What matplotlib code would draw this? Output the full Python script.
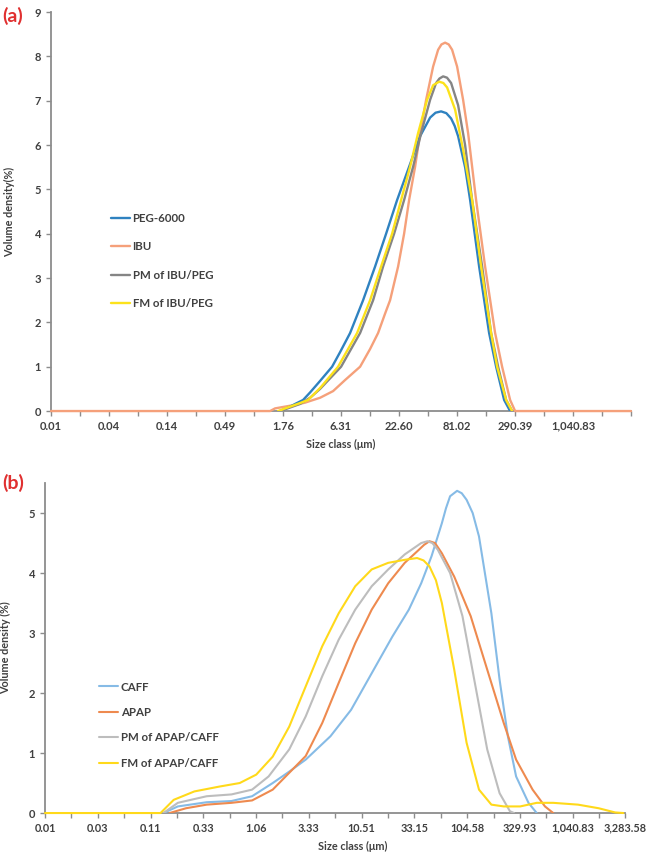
import numpy as np
import matplotlib
matplotlib.use("Agg")
import matplotlib.pyplot as plt
from matplotlib.ticker import FixedLocator, FixedFormatter, NullFormatter

plt.rcParams["font.family"] = ["Lato", "DejaVu Sans"]

# ---- panel (a): IBU / PEG-6000 ----
a_ticks = [0.01066, 0.03821, 0.1370, 0.4909, 1.759, 6.306, 22.60, 81.02,
           290.39, 1040.83, 3730.6]
a_tick_labels = ["0.01", "0.04", "0.14", "0.49", "1.76", "6.31", "22.60",
                 "81.02", "290.39", "1,040.83", ""]

peg_x = [1.649, 1.841, 2.055, 2.295, 2.736, 3.193, 3.979, 5.18, 6.18, 7.70,
         10.25, 13.35, 17.01, 21.67, 28.22, 35.95, 44.80, 50.5, 57.08, 64.0,
         71.13, 77.0, 82.99, 96.80, 108.1, 131.8, 164.2, 191.6, 228.5, 260.7]
peg_y = [0, 0.05, 0.10, 0.16, 0.25, 0.42, 0.68, 1.0, 1.33, 1.76,
         2.5, 3.26, 4.0, 4.76, 5.51, 6.2, 6.62, 6.73, 6.76, 6.72,
         6.6, 6.43, 6.2, 5.5, 4.76, 3.26, 1.76, 1.0, 0.25, 0]

ibu_x = [0.01066, 1.323, 1.477, 1.841, 2.295, 2.860, 3.979, 5.297, 6.899, 9.598,
         11.96, 14.26, 16.64, 18.57, 22.15, 25.28, 28.22, 32.20, 35.95, 41.03,
         47.86, 53.44, 57.5, 62.33, 67.5, 72.72, 81.18, 92.64, 103.4, 112.96,
         123.3, 150.3, 187.4, 218.6, 260.7, 291.0, 3730.6]
ibu_y = [0, 0, 0.06, 0.10, 0.14, 0.19, 0.30, 0.45, 0.70, 1.0,
         1.4, 1.76, 2.2, 2.5, 3.26, 4.0, 4.76, 5.51, 6.27, 7.02,
         7.77, 8.15, 8.27, 8.31, 8.27, 8.15, 7.77, 7.02, 6.27, 5.51,
         4.76, 3.26, 1.76, 1.0, 0.25, 0, 0]

pm_a_x = [1.649, 2.055, 2.562, 3.193, 3.979, 6.317, 9.598, 12.78, 15.92, 20.29,
          25.28, 30.82, 36.75, 44.80, 51.13, 55.0, 59.65, 65.0, 71.13, 82.99,
          96.80, 112.96, 140.8, 171.6, 200.1, 238.8, 272.4]
pm_a_y = [0, 0.08, 0.16, 0.30, 0.50, 1.0, 1.76, 2.5, 3.26, 4.0,
          4.76, 5.51, 6.27, 7.02, 7.4, 7.5, 7.55, 7.52, 7.4, 6.9,
          6.0, 4.76, 3.26, 1.76, 1.0, 0.25, 0]

fm_a_x = [1.578, 1.841, 2.055, 2.562, 3.055, 3.979, 5.912, 8.984, 11.96, 15.24,
          19.41, 23.67, 28.85, 34.40, 41.94, 47.86, 54.63, 60.0, 65.15, 77.67,
          92.64, 112.96, 137.7, 171.6, 195.8, 238.8, 272.4]
fm_a_y = [0, 0.06, 0.10, 0.18, 0.25, 0.52, 1.0, 1.76, 2.5, 3.26,
          4.0, 4.76, 5.51, 6.27, 7.02, 7.35, 7.43, 7.4, 7.3, 6.8,
          5.9, 4.76, 3.26, 1.76, 1.0, 0.25, 0]

# ---- panel (b): APAP / CAFF ----
b_ticks = [0.01066, 0.03363, 0.1061, 0.3347, 1.056, 3.331, 10.51, 33.15,
           104.58, 329.93, 1040.83, 3283.58]
b_tick_labels = ["0.01", "0.03", "0.11", "0.33", "1.06", "3.33", "10.51",
                 "33.15", "104.58", "329.93", "1,040.83", "3,283.58"]

caff_x = [0.1404, 0.1923, 0.3606, 0.6182, 0.9687, 1.518, 2.174, 3.112, 5.337, 8.36,
          13.10, 20.53, 29.41, 38.49, 48.19, 60.33, 66.0, 72.19, 84.08, 93.0,
          103.4, 118.0, 135.4, 177.3, 212.1, 253.9, 303.8, 397.8, 476.0]
caff_y = [0, 0.11, 0.18, 0.20, 0.28, 0.50, 0.69, 0.89, 1.28, 1.72,
          2.33, 2.94, 3.39, 3.83, 4.28, 4.83, 5.08, 5.28, 5.37, 5.33,
          5.22, 5.0, 4.61, 3.33, 2.22, 1.28, 0.61, 0.17, 0]

apap_x = [0.1607, 0.2301, 0.3606, 0.6182, 0.9687, 1.518, 2.174, 3.112, 4.461, 6.388,
          9.15, 13.10, 18.77, 26.88, 35.19, 41.0, 46.08, 52.0, 60.33, 78.97,
          113.1, 162.0, 232.1, 303.8, 435.1, 569.7, 681.8]
apap_y = [0, 0.08, 0.14, 0.17, 0.21, 0.39, 0.67, 0.95, 1.5, 2.17,
          2.83, 3.39, 3.83, 4.17, 4.36, 4.47, 4.53, 4.5, 4.33, 3.94,
          3.28, 2.39, 1.5, 0.89, 0.39, 0.11, 0]

pm_b_x = [0.1404, 0.1923, 0.3606, 0.6182, 0.9687, 1.388, 2.174, 3.112, 4.461, 6.388,
          9.15, 13.10, 18.77, 26.88, 38.49, 44.06, 49.0, 55.14, 72.19, 94.52,
          123.7, 162.0, 212.1, 265.6, 290.5]
pm_b_y = [0, 0.17, 0.28, 0.31, 0.39, 0.61, 1.06, 1.61, 2.28, 2.89,
          3.39, 3.78, 4.06, 4.31, 4.5, 4.53, 4.5, 4.39, 4.0, 3.28,
          2.17, 1.06, 0.33, 0.03, 0]

fm_b_x = [0.01066, 0.1319, 0.1758, 0.2755, 0.4721, 0.7399, 1.060, 1.518, 2.174, 3.112,
          4.461, 6.388, 9.15, 13.10, 18.77, 26.88, 35.19, 40.5, 46.08, 53.0,
          60.33, 78.97, 103.4, 135.4, 177.3, 232.1, 332.3, 476.0, 681.8, 1168.7,
          1831, 2623, 3140]
fm_b_y = [0, 0, 0.22, 0.36, 0.44, 0.50, 0.64, 0.94, 1.44, 2.11,
          2.78, 3.33, 3.78, 4.06, 4.17, 4.22, 4.25, 4.21, 4.11, 3.88,
          3.5, 2.39, 1.17, 0.39, 0.14, 0.11, 0.11, 0.17, 0.17, 0.14,
          0.08, 0.01, 0]

AXIS_GREY = "#8c8c8c"
TXT = "#404040"
LINE_KW = dict(solid_joinstyle="round", solid_capstyle="round")


def style_axis(ax, ticks, labels, xmax, ymax, ylabel):
    ax.set_xscale("log")
    ax.set_xlim(ticks[0], xmax)
    ax.set_ylim(0, ymax)
    ax.xaxis.set_major_locator(FixedLocator(ticks))
    ax.xaxis.set_major_formatter(FixedFormatter(labels))
    t = np.array(ticks)
    ax.xaxis.set_minor_locator(FixedLocator(np.sqrt(t[:-1] * t[1:])))
    ax.xaxis.set_minor_formatter(NullFormatter())
    for s in ("top", "right"):
        ax.spines[s].set_visible(False)
    for s in ("left", "bottom"):
        ax.spines[s].set_color(AXIS_GREY)
        ax.spines[s].set_linewidth(1.3)
    ax.tick_params(axis="both", which="both", direction="out", length=3.5,
                   width=1.0, color=AXIS_GREY, labelcolor=TXT, labelsize=8)
    for lab in ax.get_xticklabels() + ax.get_yticklabels():
        lab.set_fontweight("bold")
    ax.set_xlabel("Size class (\u03bcm)", fontsize=7.8, fontweight="bold",
                  color=TXT, labelpad=5)
    ax.set_ylabel(ylabel, fontsize=7.8, fontweight="bold", color=TXT)


fig = plt.figure(figsize=(6.5, 8.63), dpi=100)
fig.patch.set_facecolor("white")

# --- (a)
ax1 = fig.add_axes([0.0785, 0.5237, 0.8923, 0.4623])
ax1.plot(ibu_x, ibu_y, color="#f5a07a", lw=1.7, label="IBU", zorder=3,
         clip_on=False, **LINE_KW)
ax1.plot(peg_x, peg_y, color="#2f82c0", lw=1.7, label="PEG-6000", zorder=4, **LINE_KW)
ax1.plot(pm_a_x, pm_a_y, color="#858585", lw=1.7, label="PM of IBU/PEG", zorder=5, **LINE_KW)
ax1.plot(fm_a_x, fm_a_y, color="#fce21b", lw=1.7, label="FM of IBU/PEG", zorder=6, **LINE_KW)
ax1.set_yticks(range(0, 10))
style_axis(ax1, a_ticks, a_tick_labels, a_ticks[-1], 9, "Volume density(%)")
ax1.yaxis.set_label_coords(-0.062, 0.5)
h, l = ax1.get_legend_handles_labels()
order = [1, 0, 2, 3]
leg1 = ax1.legend([h[i] for i in order], [l[i] for i in order],
                  loc="upper left", bbox_to_anchor=(0.085, 0.522),
                  frameon=False, fontsize=8.3, handlelength=1.7,
                  handletextpad=0.2, labelspacing=1.5)
for t in leg1.get_texts():
    t.set_fontweight("bold")
    t.set_color(TXT)

# --- (b)
ax2 = fig.add_axes([0.0692, 0.0579, 0.893, 0.3824])
ax2.plot(caff_x, caff_y, color="#86bbe6", lw=1.5, label="CAFF", zorder=3, **LINE_KW)
ax2.plot(apap_x, apap_y, color="#ee8a4f", lw=1.5, label="APAP", zorder=4, **LINE_KW)
ax2.plot(pm_b_x, pm_b_y, color="#bdbdbd", lw=1.5, label="PM of APAP/CAFF", zorder=5, **LINE_KW)
ax2.plot(fm_b_x, fm_b_y, color="#ffd91a", lw=1.5, label="FM of APAP/CAFF", zorder=6,
         clip_on=False, **LINE_KW)
ax2.set_yticks(range(0, 6))
style_axis(ax2, b_ticks, b_tick_labels, b_ticks[-1], 5.5, "Volume density (%)")
ax2.tick_params(axis="x", labelsize=7.8)
ax2.yaxis.set_label_coords(-0.058, 0.5)
ax2.xaxis.set_label_coords(0.53, -0.085)
leg2 = ax2.legend(loc="upper left", bbox_to_anchor=(0.075, 0.43),
                  frameon=False, fontsize=8.3, handlelength=1.7,
                  handletextpad=0.2, labelspacing=1.25)
for t in leg2.get_texts():
    t.set_fontweight("bold")
    t.set_color(TXT)

fig.text(0.003, 0.982, "(a)", color="#e03030", fontsize=14, fontweight="bold",
         va="center", ha="left")
fig.text(0.003, 0.440, "(b)", color="#e03030", fontsize=14, fontweight="bold",
         va="center", ha="left")

fig.savefig("out.png", dpi=100, facecolor="white")
